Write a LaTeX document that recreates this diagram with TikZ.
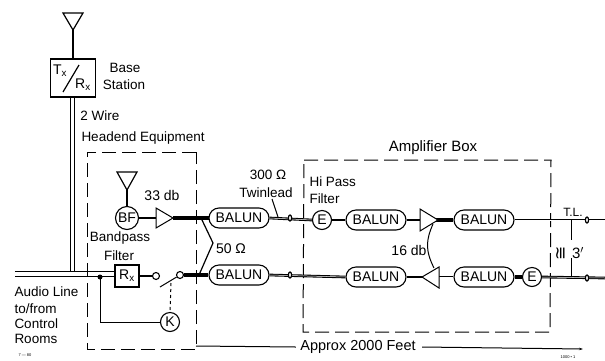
\documentclass[tikz,border=0pt]{standalone}
\usepackage{fontspec}
\setmainfont{Liberation Sans}
\newfontfamily\symfont{DejaVu Sans}
\usetikzlibrary{arrows.meta}
\begin{document}
\begin{tikzpicture}[x=1pt,y=-1pt,
 line width=1pt,
 thick line/.style={line width=2.6pt},
 dbl/.style={line width=1.1pt,double=white,double distance=0.5pt},
 balun/.style={draw,rounded corners=10pt,minimum width=60pt,minimum height=20pt,inner sep=0pt,line width=1.1pt,fill=white,font=\fontsize{14}{14}\selectfont},
 circ/.style={draw,circle,minimum size=19pt,inner sep=0pt,fill=white,line width=1.1pt,font=\fontsize{14}{14}\selectfont},
 small/.style={draw,circle,minimum size=7pt,inner sep=0pt,fill=white,line width=1.1pt},
 amp/.style={draw,line width=1pt,fill=white},
 lab/.style={font=\fontsize{13.5}{14}\selectfont,inner sep=0pt},
 box/.style={draw,dashed,dash pattern=on 14pt off 6pt,line width=1pt}]
\useasboundingbox (0,0) rectangle (605,360);
% top station
\draw[line width=1.2pt] (63,13)--(83,13)--(73,30)--cycle;
\node[draw,line width=1.1pt,minimum width=45pt,minimum height=38pt,inner sep=0pt] (txrx) at (73,78) {};
\coordinate (ant1) at (73,30);
\draw[line width=1.2pt] (ant1)--(txrx.north);
\draw[line width=1.2pt] (79,65)--(63,92);
\node[lab,font=\fontsize{14}{14}\selectfont] (tx) at (60,71) {T\textsubscript{x}};
\node[lab,font=\fontsize{14}{14}\selectfont] (rx) at (83,85) {R\textsubscript{x}};
\node[lab] (base) at (125,68) {Base};
\node[lab] (station) at (124,85) {Station};
\node[lab] (wire) at (100,116) {2 Wire};
\node[lab,anchor=west] (head) at (81,138) {Headend Equipment};
% 2 wire and audio line
\draw (70,97)--(70,272);
\draw (74,97)--(74,272);
\coordinate (al1) at (15,271);
\coordinate (al2) at (15,276);
\draw (al1)--(115,271);
\draw (al2)--(115,276);
% headend
\draw[box] (196,152)--(87,152)--(87,349)--(196,349)--cycle;
\node[lab] (bp) at (120,238) {Bandpass};
\node[lab] (fi) at (119,256) {Filter};
\draw[line width=1.2pt] (117,172)--(137,172)--(127,190)--cycle;
\node[circ,minimum size=23pt] (bf) at (127,218) {BF};
\draw[line width=1.2pt] (127,190)--(bf.north);
\coordinate (amp1t) at (173,218);
\draw[thick line] (bf.east)--(160,218);
\draw[line width=3.2pt] (173,218)--(212,218);
\draw[amp] (156,208)--(156,228)--(173,218)--cycle;
\node[lab,font=\fontsize{14}{14}\selectfont] (db33) at (162,195) {33 db};
\node[balun] (b1) at (239,218) {BALUN};
\node[balun] (b2) at (239,275) {BALUN};
\draw[line width=1.2pt] (202,220)--(213,243)--(199,275);
\node[lab,font=\fontsize{14}{14}\selectfont] (ohm50) at (231,249) {50 Ω};
\node[draw,line width=1.1pt,minimum width=24pt,minimum height=22pt,inner sep=0pt,fill=white,font=\fontsize{14}{14}\selectfont] (rxb) at (127,276) {R\textsubscript{x}};
\node[small] (s1) at (156,276) {};
\node[small] (s2) at (180,275) {};
\draw[thick line] (rxb.east)--(s1.west);
\draw[line width=3.2pt] (s2.east)--(b2.west);
\coordinate (blade) at (160,287);
\draw (s2)--(blade);
\node[circ] (k) at (170,322) {K};
\coordinate (sw) at (171,283);
\draw[dashed] (sw)--(k.north);
\fill (100,277) circle (2.5pt);
\coordinate (jn) at (100,277);
\draw (jn)--(100,322)--(k.west);
\node[lab,anchor=west] (al) at (14,292) {Audio Line};
\node[lab,anchor=west] (tf) at (14,309) {to/from};
\node[lab,anchor=west] (cr) at (14,324) {Control};
\node[lab,anchor=west] (ro) at (14,339) {Rooms};
\node[font=\fontsize{4}{4}\selectfont,inner sep=0pt] (fig) at (25,355) {7 — 80};
% twinlead
\node[lab] (o300) at (268,175) {300 Ω};
\node[lab] (twin) at (266,193) {Twinlead};
\coordinate (tw) at (278,217);
\draw (272,199)--(tw);
% amp box
\draw[box] (304,160)--(551,160)--(550,332)--(303,332)--cycle;
\node[lab,font=\fontsize{15}{15}\selectfont] (amb) at (433,148) {Amplifier Box};
\node[lab,anchor=west] (hp) at (309,182) {Hi Pass};
\node[lab,anchor=west] (fl) at (309,199) {Filter};
\node[circ] (e1) at (322,220) {E};
\node[balun] (b3) at (376,220) {BALUN};
\node[balun] (b4) at (484,220) {BALUN};
\node[balun] (b5) at (376,277) {BALUN};
\node[balun] (b6) at (484,277) {BALUN};
\node[circ] (e2) at (532,277) {E};
\coordinate (end1) at (605,220);
\coordinate (end2) at (605,278);
\draw[dbl] (b1.east)--(e1.west);
\draw[dbl] (b2.east)--(b5.west);
\draw[thick line] (e1.east)--(b3.west);
\draw[thick line] (b3.east)--(424,220);
\draw[line width=3.2pt] (436,220)--(b4.west);
\draw[dbl] (b4.east)--(end1);
\draw[thick line] (b5.east)--(424,277);
\draw[dbl] (437,277)--(b6.west);
\draw[line width=3.2pt] (b6.east)--(e2.west);
\draw[dbl] (e2.east)--(end2);
\draw[amp] (420,209)--(420,231)--(438,220)--cycle;
\draw[amp] (439,267)--(439,288)--(422,277)--cycle;
\draw (433,224) .. controls (426,240) and (425,250) .. (434,268);
\node[lab,font=\fontsize{14}{14}\selectfont] (db16) at (409,250) {16 db};
% coils
\foreach \x/\y in {290/218,290/275,587/220,587/278}{
 \draw[fill=white,line width=1.2pt] (\x,\y) ellipse (1.6pt and 3pt);}
\node[lab,font=\fontsize{12}{12}\selectfont] (tl) at (573,212) {T.L.};
\coordinate (t1) at (571,220);
\coordinate (t2) at (571,277);
\draw (t1)--(571,240);
\draw (571,258)--(t2);
\node[lab,font=\fontsize{15}{15}\selectfont] (three) at (578,253) {3$'$};
\node[lab,font=\fontsize{17}{17}\selectfont\symfont,rotate=90] (approxeq) at (561,253) {≅};
% distance line
\node[lab,font=\fontsize{14.5}{15}\selectfont] (appr) at (358,347) {Approx 2000 Feet};
\coordinate (dl) at (196,346);
\coordinate (dr) at (583,349);
\draw (dl)--([xshift=-4pt]appr.west);
\draw[-{Stealth[length=4pt,width=2.5pt]}] ([xshift=6pt]appr.east)--(dr);
\node[font=\fontsize{4}{4}\selectfont,inner sep=0pt] (code) at (568,357) {1000 • 1};
\end{tikzpicture}
\end{document}
